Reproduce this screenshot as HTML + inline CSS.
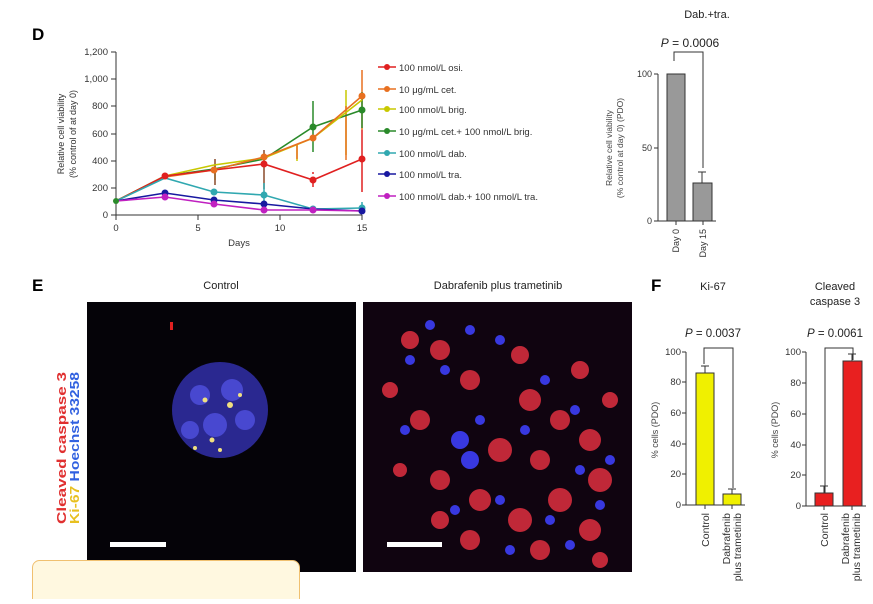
<!DOCTYPE html><html><head><style>body{margin:0;background:#fff;width:873px;height:599px;overflow:hidden;font-family:"Liberation Sans",sans-serif}</style></head><body>
<svg width="873" height="599" xmlns="http://www.w3.org/2000/svg" font-family="Liberation Sans, sans-serif">
<text x="32" y="40" font-size="17" font-weight="bold">D</text>
<g stroke="#333" stroke-width="1" fill="none">
<path d="M116 52V215H362"/>
<path d="M111 52H116M111 79H116M111 106H116M111 134H116M111 161H116M111 188H116M111 215H116"/>
<path d="M116 215v5M198 215v5M280 215v5M362 215v5"/>
</g>
<g font-size="9.5" fill="#333" text-anchor="end">
<text x="108" y="55">1,200</text><text x="108" y="82">1,000</text><text x="108" y="109">800</text><text x="108" y="137">600</text><text x="108" y="164">400</text><text x="108" y="191">200</text><text x="108" y="218">0</text>
</g>
<g font-size="9.5" fill="#333" text-anchor="middle">
<text x="116" y="231">0</text><text x="198" y="231">5</text><text x="280" y="231">10</text><text x="362" y="231">15</text>
<text x="239" y="246">Days</text>
<text transform="translate(64,134) rotate(-90)" font-size="9">Relative cell viability</text>
<text transform="translate(76,134) rotate(-90)" font-size="9">(% control of at day 0)</text>
</g>
<g fill="none" stroke-width="1.5">
<path stroke="#c8c800" d="M215 180V165M297 161V144M346 155V90"/>
<path stroke="#e87020" d="M297 159V144M346 160V106M362 130V70"/>
<path stroke="#2a8a2a" d="M313 152V101M362 128V92"/>
<path stroke="#8a4a2a" d="M215 185V159M264 189V150"/>
<path stroke="#e02020" d="M313 174V172M313 180V187M362 192V133M362 160V130"/>
<path stroke="#30a8b0" d="M264 202V183M362 207V202"/>
</g>
<g fill="none" stroke-width="1.6">
<polyline stroke="#2a8a2a" points="116,201 165,176 214,169 264,159 313,127 362,110"/>
<polyline stroke="#c8c800" points="116,201 165,176 214,165 264,158 313,138 362,100"/>
<polyline stroke="#e87020" points="116,201 165,177 214,170 264,157 313,138 362,96"/>
<polyline stroke="#e02020" points="116,201 165,176 214,170 264,164 313,180 362,159"/>
<polyline stroke="#30a8b0" points="116,201 165,178 214,192 264,195 313,209 362,208"/>
<polyline stroke="#1818a0" points="116,201 165,193 214,200 264,204 313,209 362,211"/>
<polyline stroke="#c020c0" points="116,201 165,197 214,204 264,210 313,210 362,211"/>
</g>
<g>
<g fill="#2a8a2a"><circle cx="116" cy="201" r="3"/><circle cx="313" cy="127" r="3.5"/><circle cx="362" cy="110" r="3.5"/></g>
<g fill="#e87020"><circle cx="214" cy="170" r="3.5"/><circle cx="264" cy="157" r="3.5"/><circle cx="313" cy="138" r="3.5"/><circle cx="362" cy="96" r="3.5"/></g>
<g fill="#e02020"><circle cx="165" cy="176" r="3.5"/><circle cx="264" cy="164" r="3.5"/><circle cx="313" cy="180" r="3.5"/><circle cx="362" cy="159" r="3.5"/></g>
<g fill="#30a8b0"><circle cx="214" cy="192" r="3.5"/><circle cx="264" cy="195" r="3.5"/><circle cx="313" cy="209" r="3.5"/><circle cx="362" cy="208" r="3.5"/></g>
<g fill="#1818a0"><circle cx="165" cy="193" r="3.5"/><circle cx="214" cy="200" r="3.5"/><circle cx="264" cy="204" r="3.5"/><circle cx="362" cy="211" r="3.5"/></g>
<g fill="#c020c0"><circle cx="165" cy="197" r="3.5"/><circle cx="214" cy="204" r="3.5"/><circle cx="264" cy="210" r="3.5"/><circle cx="313" cy="210" r="3.5"/></g>
</g>
<g font-size="9.5" fill="#333">
<g stroke-width="1.6">
<line x1="378" y1="67" x2="396" y2="67" stroke="#e02020"/><circle cx="387" cy="67" r="3" fill="#e02020"/>
<line x1="378" y1="89" x2="396" y2="89" stroke="#e87020"/><circle cx="387" cy="89" r="3" fill="#e87020"/>
<line x1="378" y1="109" x2="396" y2="109" stroke="#c8c800"/><circle cx="387" cy="109" r="3" fill="#c8c800"/>
<line x1="378" y1="131" x2="396" y2="131" stroke="#2a8a2a"/><circle cx="387" cy="131" r="3" fill="#2a8a2a"/>
<line x1="378" y1="153" x2="396" y2="153" stroke="#30a8b0"/><circle cx="387" cy="153" r="3" fill="#30a8b0"/>
<line x1="378" y1="174" x2="396" y2="174" stroke="#1818a0"/><circle cx="387" cy="174" r="3" fill="#1818a0"/>
<line x1="378" y1="196" x2="396" y2="196" stroke="#c020c0"/><circle cx="387" cy="196" r="3" fill="#c020c0"/>
</g>
<text x="399" y="71">100 nmol/L osi.</text>
<text x="399" y="93">10 μg/mL cet.</text>
<text x="399" y="113">100 nmol/L brig.</text>
<text x="399" y="135">10 μg/mL cet.+ 100 nmol/L brig.</text>
<text x="399" y="157">100 nmol/L dab.</text>
<text x="399" y="178">100 nmol/L tra.</text>
<text x="399" y="200">100 nmol/L dab.+ 100 nmol/L tra.</text>
</g>
<text x="707" y="18" font-size="11" text-anchor="middle" fill="#222">Dab.+tra.</text>
<text x="690" y="47" font-size="12" text-anchor="middle" fill="#222"><tspan font-style="italic">P</tspan> = 0.0006</text>
<path d="M674 61V52H703V168" fill="none" stroke="#333"/>
<rect x="667" y="74" width="18" height="147" fill="#999" stroke="#333"/>
<rect x="693" y="183" width="19" height="38" fill="#999" stroke="#333"/>
<path d="M702 183V172M698 172H706" stroke="#333"/>
<path d="M658 74V221H716M654 74H658M654 148H658M654 221H658M676 221v4M703 221v4" fill="none" stroke="#333"/>
<g font-size="9" fill="#333" text-anchor="end"><text x="652" y="77">100</text><text x="652" y="151">50</text><text x="652" y="224">0</text>
<text transform="translate(679,229) rotate(-90)">Day 0</text><text transform="translate(706,229) rotate(-90)">Day 15</text></g>
<g font-size="8.5" fill="#444" text-anchor="middle"><text transform="translate(612,148) rotate(-90)">Relative cell viability</text><text transform="translate(623,148) rotate(-90)">(% control at day 0) (PDO)</text></g>
<text x="32" y="291" font-size="17" font-weight="bold">E</text>
<text x="221" y="289" font-size="11" text-anchor="middle" fill="#222">Control</text>
<text x="498" y="289" font-size="11" text-anchor="middle" fill="#222">Dabrafenib plus trametinib</text>
<g font-size="13" font-weight="bold">
<text transform="translate(66,524) rotate(-90)" textLength="152" lengthAdjust="spacingAndGlyphs"><tspan fill="#e03030">Cleaved caspase 3</tspan></text>
<text transform="translate(79,524) rotate(-90)" textLength="152" lengthAdjust="spacingAndGlyphs"><tspan fill="#e8c020">Ki-67 </tspan><tspan fill="#3060e0">Hoechst 33258</tspan></text>
</g>
<rect x="87" y="302" width="269" height="270" fill="#050308"/>
<circle cx="220" cy="410" r="48" fill="#2a2890"/>
<g fill="#4848d0"><circle cx="200" cy="395" r="10"/><circle cx="232" cy="390" r="11"/><circle cx="215" cy="425" r="12"/><circle cx="245" cy="420" r="10"/><circle cx="190" cy="430" r="9"/></g>
<g fill="#f0e080"><circle cx="205" cy="400" r="2.5"/><circle cx="230" cy="405" r="3"/><circle cx="212" cy="440" r="2.5"/><circle cx="195" cy="448" r="2"/><circle cx="240" cy="395" r="2"/><circle cx="220" cy="450" r="2"/></g>
<rect x="170" y="322" width="3" height="8" fill="#e02020"/>
<rect x="110" y="542" width="56" height="5" fill="#fff"/>
<rect x="363" y="302" width="269" height="270" fill="#100410"/>
<g fill="#c02838">
<circle cx="410" cy="340" r="9"/><circle cx="440" cy="350" r="10"/><circle cx="520" cy="355" r="9"/><circle cx="470" cy="380" r="10"/><circle cx="420" cy="420" r="10"/><circle cx="390" cy="390" r="8"/><circle cx="530" cy="400" r="11"/><circle cx="560" cy="420" r="10"/><circle cx="590" cy="440" r="11"/><circle cx="600" cy="480" r="12"/><circle cx="560" cy="500" r="12"/><circle cx="520" cy="520" r="12"/><circle cx="480" cy="500" r="11"/><circle cx="440" cy="480" r="10"/><circle cx="470" cy="540" r="10"/><circle cx="540" cy="550" r="10"/><circle cx="590" cy="530" r="11"/><circle cx="610" cy="400" r="8"/><circle cx="500" cy="450" r="12"/><circle cx="540" cy="460" r="10"/><circle cx="580" cy="370" r="9"/><circle cx="440" cy="520" r="9"/><circle cx="400" cy="470" r="7"/><circle cx="600" cy="560" r="8"/>
</g>
<g fill="#3838e0">
<circle cx="430" cy="325" r="5"/><circle cx="470" cy="330" r="5"/><circle cx="500" cy="340" r="5"/><circle cx="445" cy="370" r="5"/><circle cx="405" cy="430" r="5"/><circle cx="460" cy="440" r="9"/><circle cx="470" cy="460" r="9"/><circle cx="480" cy="420" r="5"/><circle cx="545" cy="380" r="5"/><circle cx="575" cy="410" r="5"/><circle cx="580" cy="470" r="5"/><circle cx="610" cy="460" r="5"/><circle cx="550" cy="520" r="5"/><circle cx="500" cy="500" r="5"/><circle cx="455" cy="510" r="5"/><circle cx="510" cy="550" r="5"/><circle cx="570" cy="545" r="5"/><circle cx="600" cy="505" r="5"/><circle cx="525" cy="430" r="5"/><circle cx="410" cy="360" r="5"/>
</g>
<rect x="387" y="542" width="55" height="5" fill="#fff"/>
<text x="651" y="291" font-size="17" font-weight="bold">F</text>
<text x="713" y="290" font-size="11" text-anchor="middle" fill="#222">Ki-67</text>
<text x="835" y="290" font-size="11" text-anchor="middle" fill="#222">Cleaved</text>
<text x="835" y="305" font-size="11" text-anchor="middle" fill="#222">caspase 3</text>
<text x="713" y="337" font-size="11.5" text-anchor="middle" fill="#222"><tspan font-style="italic">P</tspan> = 0.0037</text>
<text x="835" y="337" font-size="11.5" text-anchor="middle" fill="#222"><tspan font-style="italic">P</tspan> = 0.0061</text>
<path d="M704 364V348H733V488" fill="none" stroke="#333"/>
<path d="M825 503V348H853V360" fill="none" stroke="#333"/>
<rect x="696" y="373" width="18" height="132" fill="#f0f000" stroke="#333"/>
<path d="M705 373V366M701 366H709" stroke="#333"/>
<rect x="723" y="494" width="18" height="11" fill="#f0f000" stroke="#333"/>
<path d="M732 494V489M728 489H736" stroke="#333"/>
<rect x="815" y="493" width="18" height="13" fill="#e82020" stroke="#333"/>
<path d="M824 493V486M820 486H828" stroke="#333"/>
<rect x="843" y="361" width="19" height="145" fill="#e82020" stroke="#333"/>
<path d="M852 361V354M848 354H856" stroke="#333"/>
<path d="M686 352V505H745M682 352H686M682 382H686M682 413H686M682 444H686M682 474H686M682 505H686M705 505v4M732 505v4" fill="none" stroke="#333"/>
<path d="M806 352V506H866M802 352H806M802 383H806M802 414H806M802 445H806M802 475H806M802 506H806M824 506v4M852 506v4" fill="none" stroke="#333"/>
<g font-size="9.5" fill="#333" text-anchor="end">
<text x="681" y="355">100</text><text x="681" y="385">80</text><text x="681" y="416">60</text><text x="681" y="447">40</text><text x="681" y="477">20</text><text x="681" y="508">0</text>
<text x="801" y="355">100</text><text x="801" y="386">80</text><text x="801" y="417">60</text><text x="801" y="448">40</text><text x="801" y="478">20</text><text x="801" y="509">0</text>
</g>
<g font-size="10.5" fill="#333" text-anchor="end">
<text transform="translate(709,513) rotate(-90)">Control</text>
<text transform="translate(730,513) rotate(-90)">Dabrafenib</text><text transform="translate(741,513) rotate(-90)">plus trametinib</text>
<text transform="translate(828,513) rotate(-90)">Control</text>
<text transform="translate(849,513) rotate(-90)">Dabrafenib</text><text transform="translate(860,513) rotate(-90)">plus trametinib</text>
</g>
<g font-size="9" fill="#444" text-anchor="middle"><text transform="translate(658,430) rotate(-90)">% cells (PDO)</text><text transform="translate(778,430) rotate(-90)">% cells (PDO)</text></g>
<rect x="32.5" y="560.5" width="267" height="45" rx="7" fill="#fff8e0" stroke="#f0c070"/>
</svg>
</body></html>
